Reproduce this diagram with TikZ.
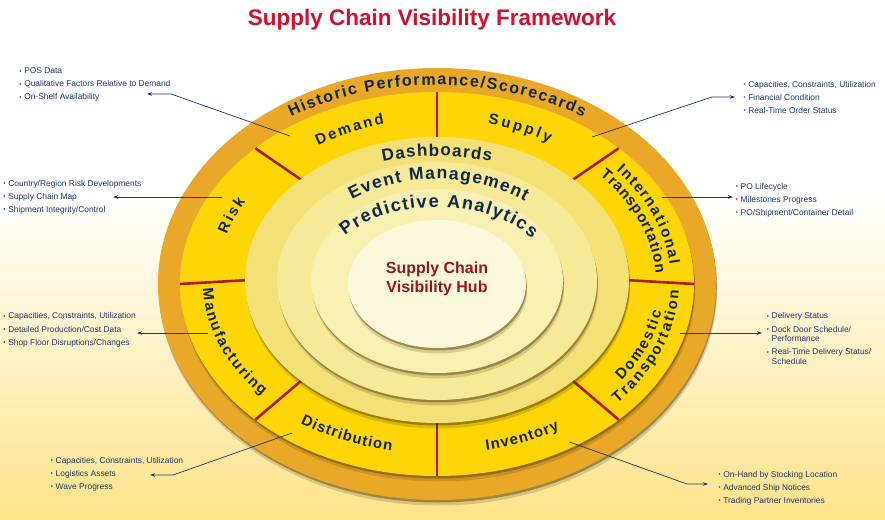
\documentclass[tikz,border=0pt]{standalone}
\usepackage{fontspec}
\setmainfont{Liberation Sans}
\usepackage{xcolor}
\usepackage{tikz}
\usetikzlibrary{shapes,arrows,positioning,calc,decorations.text,shadows,arrows.meta}

\definecolor{scvbg}{RGB}{253,227,138}
\definecolor{scvorange}{RGB}{234,168,40}
\definecolor{scvyellow}{RGB}{254,214,8}
\definecolor{scvdash}{RGB}{243,224,118}
\definecolor{scvevent}{RGB}{246,233,152}
\definecolor{scvpred}{RGB}{248,239,178}
\definecolor{scvhub}{RGB}{252,248,220}
\definecolor{scvred}{RGB}{172,28,28}
\definecolor{scvnavy}{RGB}{16,40,70}
\definecolor{scvhubred}{RGB}{150,24,30}
\definecolor{scvtitle}{RGB}{204,18,44}
\definecolor{scvlist}{RGB}{32,56,104}
\definecolor{scvshadow}{RGB}{80,62,8}

\newcommand\bandfont{\fontsize{16}{16}\selectfont\bfseries\color{scvnavy}}
\newcommand\segfont{\fontsize{15}{15}\selectfont\bfseries\color{scvnavy}}
\newcommand\dashfont{\fontsize{17}{17}\selectfont\bfseries\color{scvnavy}}
\newcommand\eventfont{\fontsize{17.5}{17.5}\selectfont\bfseries\color{scvnavy}}
\newcommand\predfont{\fontsize{18}{18}\selectfont\bfseries\color{scvnavy}}
\newcommand\bul{\makebox[4.8pt][l]{\raisebox{0.6pt}{\fontsize{6}{6}\selectfont\textbullet}}}

\begin{document}
\begin{tikzpicture}[x=1pt, y=1pt,
    scv ring/.style={drop shadow={shadow xshift=0.8pt, shadow yshift=-2.5pt, opacity=.45, fill=scvshadow},
        drop shadow={shadow xshift=1.2pt, shadow yshift=-5.5pt, opacity=.2, fill=scvshadow}},
    scv divider/.style={draw=scvred, line width=2.6pt},
    arc label/.style={decorate, decoration={text along path, text align={fit to path}, text={#1}}},
    scv list/.style={anchor=north west, inner sep=0pt, align=left, text=scvlist, font=\fontsize{8.4}{9.5}\selectfont},
    scv arrow/.style={-{Stealth[length=5pt, width=3.5pt]}, draw=scvlist, line width=0.7pt}]

    \useasboundingbox (-437,-236) rectangle (448,283);
    \fill[white] (-437,-236) rectangle (448,283);
    \shade[top color=white, bottom color=scvbg] (-437,-236) rectangle (448,90);

    \fill[scvorange, scv ring] (0,-1) ellipse [x radius=279, y radius=216];
    \fill[scvyellow, scv ring] (0,-1) ellipse [x radius=257, y radius=192];
    \foreach \a in {0,45,...,315}
        \draw[scv divider] ($(0,-1)+(\a:257 and 192)$) -- ($(0,3)+(\a:188 and 139)$);
    \fill[scvdash, scv ring] (0,3) ellipse [x radius=192, y radius=143];
    \fill[scvevent, scv ring] (0,2) ellipse [x radius=160, y radius=119];
    \fill[scvpred, scv ring] (0,2) ellipse [x radius=126, y radius=92];
    \fill[scvhub, scv ring] (0,-1) ellipse [x radius=89, y radius=64];

    \path[arc label={|\bandfont|Historic Performance/Scorecards}] (123:268 and 198) arc[start angle=123, end angle=57, x radius=268, y radius=198];
    \path[arc label={|\segfont|Demand}] (123:218 and 164) arc[start angle=123, end angle=104, x radius=218, y radius=164];
    \path[arc label={|\segfont|Supply}] (76.5:218 and 164) arc[start angle=76.5, end angle=59, x radius=218, y radius=164];
    \path[arc label={|\segfont|Risk}] (163:220 and 165) arc[start angle=163, end angle=150.5, x radius=220, y radius=165];
    \path[arc label={|\segfont|Manufacturing}] (182:234 and 170) arc[start angle=182, end angle=221.6, x radius=234, y radius=170];
    \path[arc label={|\segfont|Distribution}] (235:238 and 171) arc[start angle=235, end angle=259, x radius=238, y radius=171];
    \path[arc label={|\segfont|Inventory}] (282:238 and 171) arc[start angle=282, end angle=301, x radius=238, y radius=171];
    \path[arc label={|\segfont|International}] (40:234 and 175) arc[start angle=40, end angle=6, x radius=234, y radius=175];
    \path[arc label={|\segfont|Transportation}] (42:219 and 160) arc[start angle=42, end angle=3.5, x radius=219, y radius=160];
    \path[arc label={|\segfont|Domestic}] (-36:228 and 166) arc[start angle=-36, end angle=-10, x radius=228, y radius=166];
    \path[arc label={|\segfont|Transportation}] (-41.8:242 and 180) arc[start angle=-41.8, end angle=-2.2, x radius=242, y radius=180];
    \path[arc label={|\dashfont|Dashboards}] (107:185 and 127) arc[start angle=107, end angle=73, x radius=185, y radius=127];
    \path[arc label={|\eventfont|Event Management}] (126.5:143 and 104) arc[start angle=126.5, end angle=52, x radius=143, y radius=104];
    \path[arc label={|\predfont|Predictive Analytics}] (141.8:117 and 76) arc[start angle=141.8, end angle=35.7, x radius=117, y radius=76];

    \node[text=scvhubred, align=center, font=\fontsize{16}{19}\selectfont\bfseries] (hub) at (0,4) {Supply Chain\\Visibility Hub};
    \node[text=scvtitle, font=\fontsize{22.5}{24}\selectfont\bfseries] (title) at (-5,263) {Supply Chain Visibility Framework};

    \node[scv list] (demandlist) at (-417.7,215.3) {\bul POS Data\\[3.6pt]\bul Qualitative Factors Relative to Demand\\[3.6pt]\bul On-Shelf Availability};
    \node[scv list] (risklist) at (-433.7,103) {\bul Country/Region Risk Developments\\[3.6pt]\bul Supply Chain Map\\[3.6pt]\bul Shipment Integrity/Control};
    \node[scv list] (manulist) at (-433.7,-29.7) {\bul Capacities, Constraints, Utilization\\[3.6pt]\bul Detailed Production/Cost Data\\[3.6pt]\bul Shop Floor Disruptions/Changes};
    \node[scv list] (distlist) at (-386.3,-174) {\bul Capacities, Constraints, Utilization\\[3.6pt]\bul Logistics Assets\\[3.6pt]\bul Wave Progress};
    \node[scv list] (supplylist) at (306.3,202) {\bul Capacities, Constraints, Utilization\\[3.6pt]\bul Financial Condition\\[3.6pt]\bul Real-Time Order Status};
    \node[scv list] (intllist) at (298.7,100) {\bul PO Lifecycle\\[3.6pt]\bul Milestones Progress\\[3.6pt]\bul PO/Shipment/Container Detail};
    \node[scv list] (domlist) at (329.7,-29.7) {\bul Delivery Status\\[3.6pt]\bul Dock Door Schedule/\\\hspace*{4.8pt}Performance\\[3.6pt]\bul Real-Time Delivery Status/\\\hspace*{4.8pt}Schedule};
    \node[scv list] (invlist) at (281.3,-188) {\bul On-Hand by Stocking Location\\[3.6pt]\bul Advanced Ship Notices\\[3.6pt]\bul Trading Partner Inventories};

    \coordinate (demandfrom) at (-147,147);
    \coordinate (demandbend) at (-266,189);
    \coordinate (demandto) at (-290,189);
    \coordinate (riskfrom) at (-215,86);
    \coordinate (riskto) at (-324,86);
    \coordinate (manufrom) at (-229,-50);
    \coordinate (manuto) at (-300,-50);
    \coordinate (distfrom) at (-145,-150);
    \coordinate (distbend) at (-264,-192);
    \coordinate (distto) at (-287,-192);
    \coordinate (supplyfrom) at (155,146);
    \coordinate (supplybend) at (275,186);
    \coordinate (supplyto) at (298,186);
    \coordinate (intlfrom) at (225,86);
    \coordinate (intlto) at (296,86);
    \coordinate (domfrom) at (243,-50);
    \coordinate (domto) at (325,-50);
    \coordinate (invfrom) at (132.5,-159);
    \coordinate (invbend) at (250,-201);
    \coordinate (invto) at (271,-201);

    \draw[scv arrow] (demandfrom) -- (demandbend) -- (demandto);
    \draw[scv arrow] (riskfrom) -- (riskto);
    \draw[scv arrow] (manufrom) -- (manuto);
    \draw[scv arrow] (distfrom) -- (distbend) -- (distto);
    \draw[scv arrow] (supplyfrom) -- (supplybend) -- (supplyto);
    \draw[scv arrow] (intlfrom) -- (intlto);
    \draw[scv arrow] (domfrom) -- (domto);
    \draw[scv arrow] (invfrom) -- (invbend) -- (invto);

\end{tikzpicture}
\end{document}
